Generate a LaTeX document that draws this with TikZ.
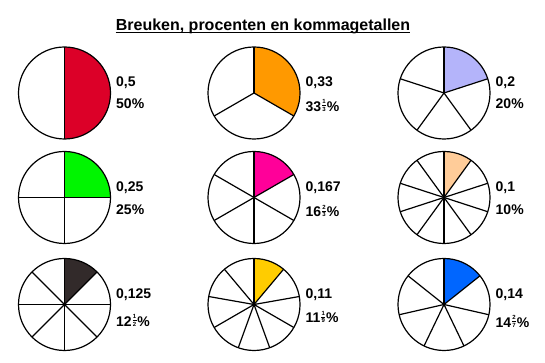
\documentclass[tikz,border=0pt]{standalone}
\usepackage{fontspec}
\setmainfont{Liberation Sans}
\usetikzlibrary{positioning}

\definecolor{breukrood}{RGB}{220,0,40}
\definecolor{breukoranje}{RGB}{255,153,0}
\definecolor{breuklila}{RGB}{180,180,250}
\definecolor{breukgroen}{RGB}{0,245,0}
\definecolor{breukroze}{RGB}{255,0,153}
\definecolor{breukperzik}{RGB}{255,204,153}
\definecolor{breukdonker}{RGB}{50,42,42}
\definecolor{breukgeel}{RGB}{255,204,0}
\definecolor{breukblauw}{RGB}{0,102,255}

% kleine breuk in de tekst
\newcommand{\kbreuk}[2]{\kern0.8pt\raisebox{2.3pt}{$\vcenter{\fontsize{6}{7}\selectfont\bfseries
    \hbox{\kern0.3pt#1\kern0.3pt}\kern1.4pt\hrule height0.5pt\kern1.4pt\hbox{\kern0.3pt#2\kern0.3pt}}$}\kern0.8pt}

\tikzset{
    taart/.style={line width=1.2pt},
    getal/.style={anchor=west, inner sep=0pt, font=\bfseries\fontsize{14}{16}\selectfont},
}

\begin{document}
\begin{tikzpicture}[x=1pt,y=1pt]
        \useasboundingbox (0,0) rectangle (545,363);
        \node[inner sep=0pt, font=\bfseries\fontsize{16}{19}\selectfont] (titel) at (263,337) {Breuken, procenten en kommagetallen};
        \draw[line width=1pt] ([yshift=-2pt]titel.base west) -- ([yshift=-2pt]titel.base east);

        \foreach \cx/\cy/\n/\kleur/\komma/\pct/\dy [count=\i] in {
            64.5/270/2/breukrood/{0,5}/{50\%}/11,
            254/270/3/breukoranje/{0,33}/{33\kbreuk{1}{3}\%}/12.5,
            444/270/5/breuklila/{0,2}/{20\%}/11,
            64.5/165.5/4/breukgroen/{0,25}/{25\%}/12,
            254/165.5/6/breukroze/{0,167}/{16\kbreuk{2}{3}\%}/13.5,
            444/165.5/10/breukperzik/{0,1}/{10\%}/12,
            64.5/58.5/8/breukdonker/{0,125}/{12\kbreuk{1}{2}\%}/16,
            254/58.5/9/breukgeel/{0,11}/{11\kbreuk{1}{9}\%}/12.5,
            444/58.5/7/breukblauw/{0,14}/{14\kbreuk{2}{7}\%}/17
        } {
            \fill[\kleur] (\cx,\cy) -- ++(90:46) arc[start angle=90, end angle={90-360/\n}, radius=46] -- cycle;
            \foreach \k in {1,...,\n} {
                \draw[taart] (\cx,\cy) -- ++({90-\k*360/\n}:46);
            }
            \draw[taart] (\cx,\cy) circle[radius=46];
            \node[getal] (komma-\i) at (\cx+51.5,\cy+10) {\komma};
            \node[getal] (pct-\i) at (\cx+51.5,\cy-\dy) {\pct};
        }
\end{tikzpicture}
\end{document}
